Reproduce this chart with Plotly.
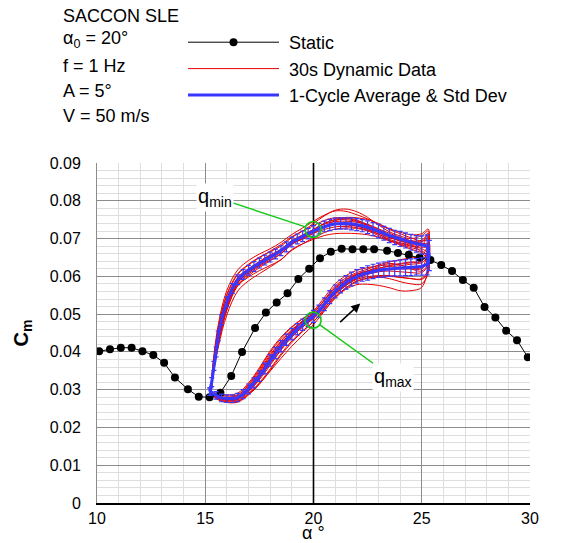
import plotly.graph_objects as go

# ---------------- data ----------------
alpha_static = [10.1, 10.6, 11.1, 11.6, 12.1, 12.6, 13.1, 13.6, 14.2, 14.7,
                15.2, 15.7, 16.2, 16.7, 17.3, 17.8, 18.3, 18.8, 19.3, 19.8,
                20.3, 20.8, 21.3, 21.8, 22.3, 22.8, 23.4, 23.9, 24.4, 24.9,
                25.4, 25.9, 26.4, 26.9, 27.4, 27.9, 28.4, 28.9, 29.4, 29.9]
cm_static = [0.0402, 0.0407, 0.0411, 0.0411, 0.0402, 0.0392, 0.0371, 0.0332, 0.0301, 0.0281,
             0.0280, 0.0292, 0.0336, 0.0400, 0.0463, 0.0504, 0.0531, 0.0555, 0.0593, 0.0620,
             0.0648, 0.0665, 0.0673, 0.0672, 0.0672, 0.0672, 0.0668, 0.0662, 0.0657, 0.0650,
             0.0643, 0.0630, 0.0614, 0.0590, 0.0570, 0.0519, 0.0491, 0.0456, 0.0431, 0.0386]

# 1-cycle average: increasing-alpha branch then decreasing-alpha branch
alpha_avg_up = [15.25, 15.5, 15.75, 16.0, 16.25, 16.5, 16.75, 17.0, 17.25, 17.5,
                17.75, 18.0, 18.25, 18.5, 18.75, 19.0, 19.25, 19.5, 19.75, 20.0,
                20.25, 20.5, 20.75, 21.0, 21.25, 21.5, 21.75, 22.0, 22.25, 22.5,
                22.75, 23.0, 23.25, 23.5, 23.75, 24.0, 24.25, 24.5, 24.75, 25.0,
                25.25, 25.35]
cm_avg_up = [0.0295, 0.0285, 0.0278, 0.0276, 0.0276, 0.0279, 0.0288, 0.0302, 0.0318, 0.0336,
             0.0356, 0.0377, 0.0397, 0.0415, 0.0432, 0.0447, 0.0460, 0.0472, 0.0483, 0.0494,
             0.0508, 0.0526, 0.0545, 0.0560, 0.0573, 0.0584, 0.0593, 0.0600, 0.0605, 0.0609,
             0.0613, 0.0616, 0.0618, 0.0620, 0.0621, 0.0622, 0.0623, 0.0624, 0.0625, 0.0626,
             0.0632, 0.0655]
std_avg_up = [0.0010, 0.0010, 0.0010, 0.0010, 0.0010, 0.0011, 0.0012, 0.0013, 0.0013, 0.0014,
              0.0014, 0.0015, 0.0015, 0.0015, 0.0015, 0.0015, 0.0015, 0.0015, 0.0016, 0.0016,
              0.0016, 0.0017, 0.0017, 0.0017, 0.0017, 0.0018, 0.0018, 0.0018, 0.0018, 0.0019,
              0.0019, 0.0019, 0.0020, 0.0020, 0.0020, 0.0021, 0.0021, 0.0022, 0.0022, 0.0023,
              0.0028, 0.0040]
alpha_avg_down = [25.25, 25.0, 24.75, 24.5, 24.25, 24.0, 23.75, 23.5, 23.25, 23.0,
                  22.75, 22.5, 22.25, 22.0, 21.75, 21.5, 21.25, 21.0, 20.75, 20.5,
                  20.25, 20.0, 19.75, 19.5, 19.25, 19.0, 18.75, 18.5, 18.25, 18.0,
                  17.75, 17.5, 17.25, 17.0, 16.75, 16.5, 16.25, 16.0, 15.75, 15.6,
                  15.5, 15.4, 15.3, 15.2]
cm_avg_down = [0.0680, 0.0683, 0.0686, 0.0690, 0.0695, 0.0699, 0.0703, 0.0708, 0.0714, 0.0720,
               0.0725, 0.0730, 0.0734, 0.0737, 0.0739, 0.0740, 0.0740, 0.0739, 0.0736, 0.0732,
               0.0726, 0.0720, 0.0713, 0.0706, 0.0699, 0.0691, 0.0678, 0.0668, 0.0659, 0.0651,
               0.0643, 0.0635, 0.0626, 0.0616, 0.0605, 0.0591, 0.0568, 0.0533, 0.0485, 0.0442,
               0.0400, 0.0363, 0.0320, 0.0295]
std_avg_down = [0.0030, 0.0024, 0.0022, 0.0021, 0.0020, 0.0020, 0.0019, 0.0019, 0.0018, 0.0018,
                0.0017, 0.0017, 0.0016, 0.0016, 0.0016, 0.0015, 0.0015, 0.0015, 0.0015, 0.0014,
                0.0014, 0.0014, 0.0014, 0.0014, 0.0013, 0.0013, 0.0013, 0.0013, 0.0013, 0.0013,
                0.0013, 0.0013, 0.0013, 0.0013, 0.0013, 0.0013, 0.0013, 0.0013, 0.0013, 0.0013,
                0.0013, 0.0012, 0.0012, 0.0010]

# 30 s of raw dynamic data: individual cycles (alpha path up, then down, closed)
alpha_cycle = [15.3, 15.6, 16.0, 16.5, 17.0, 17.5, 18.0, 18.5, 19.0, 19.5, 20.0,
               20.5, 21.0, 21.5, 22.0, 22.5, 23.0, 23.5, 24.0, 24.5, 25.0, 25.3,
               25.3, 25.0, 24.5, 24.0, 23.5, 23.0, 22.5, 22.0, 21.5, 21.0, 20.5,
               20.0, 19.5, 19.0, 18.5, 18.0, 17.5, 17.0, 16.5, 16.0, 15.6, 15.3, 15.3]
cm_cycle_01 = [295, 287, 283, 287, 314, 354, 399, 435, 465, 488, 509, 544, 580, 602, 616, 623, 628, 630, 632, 636, 640, 670,
               715, 695, 702, 713, 724, 738, 752, 763, 772, 773, 762, 746, 728, 711, 690, 673, 659, 642, 617, 563, 472, 330, 295]
cm_cycle_02 = [289, 275, 268, 270, 290, 318, 355, 395, 429, 456, 480, 510, 542, 568, 586, 595, 600, 600, 597, 594, 594, 620,
               660, 673, 680, 687, 694, 704, 710, 713, 714, 713, 708, 698, 686, 671, 644, 625, 607, 588, 561, 498, 412, 310, 289]
cm_cycle_03 = [292, 279, 272, 275, 296, 326, 365, 405, 439, 466, 488, 516, 546, 566, 578, 579, 576, 570, 562, 562, 571, 630,
               705, 683, 686, 693, 704, 720, 734, 745, 750, 749, 740, 724, 708, 691, 666, 647, 629, 610, 583, 523, 434, 316, 292]
cm_cycle_04 = [294, 284, 280, 285, 312, 350, 393, 429, 459, 482, 504, 538, 574, 596, 610, 619, 630, 638, 644, 649, 654, 690,
               720, 708, 700, 707, 718, 736, 756, 771, 778, 775, 760, 740, 720, 703, 680, 665, 651, 632, 607, 553, 462, 326, 294]
cm_cycle_05 = [293, 283, 278, 282, 308, 346, 389, 427, 457, 480, 502, 536, 570, 592, 606, 615, 622, 626, 628, 632, 636, 655,
               675, 677, 682, 689, 698, 712, 722, 729, 732, 731, 724, 714, 700, 685, 660, 643, 627, 606, 579, 518, 430, 315, 293]
cm_cycle_06 = [290, 277, 271, 273, 294, 330, 375, 419, 455, 482, 500, 526, 554, 576, 596, 613, 626, 634, 630, 620, 614, 635,
               695, 693, 694, 697, 702, 716, 734, 749, 754, 747, 732, 714, 698, 687, 670, 657, 639, 614, 583, 513, 422, 312, 290]
cm_cycle_07 = [296, 289, 286, 291, 318, 358, 403, 439, 467, 488, 506, 536, 568, 590, 606, 613, 618, 620, 620, 620, 620, 645,
               685, 687, 694, 703, 714, 726, 738, 747, 754, 755, 748, 734, 720, 705, 684, 667, 649, 630, 605, 549, 460, 326, 296]
cm_cycle_08 = [288, 273, 266, 267, 286, 314, 351, 391, 425, 454, 480, 514, 550, 576, 594, 605, 612, 614, 612, 610, 610, 630,
               650, 668, 676, 685, 694, 708, 720, 727, 728, 725, 716, 702, 686, 669, 644, 629, 615, 598, 575, 513, 417, 308, 288]
cm_cycle_09 = [294, 282, 276, 279, 304, 340, 383, 421, 453, 478, 498, 530, 564, 588, 604, 613, 618, 620, 620, 620, 624, 670,
               710, 691, 694, 701, 710, 724, 736, 743, 746, 745, 738, 724, 710, 695, 672, 655, 639, 620, 595, 539, 450, 322, 294]
cm_cycle_10 = [291, 279, 274, 276, 298, 330, 369, 407, 441, 466, 490, 522, 556, 578, 592, 599, 602, 602, 598, 594, 592, 610,
               640, 663, 684, 695, 704, 716, 726, 733, 736, 737, 730, 718, 704, 689, 664, 647, 631, 610, 585, 525, 436, 318, 291]
cm_cycle_11 = [292, 281, 277, 281, 306, 342, 385, 423, 451, 472, 490, 520, 554, 580, 598, 609, 620, 628, 634, 638, 640, 680,
               725, 713, 710, 717, 726, 740, 750, 755, 756, 751, 740, 724, 706, 689, 666, 651, 637, 620, 597, 541, 452, 324, 292]
cm_cycle_12 = [290, 276, 268, 269, 288, 316, 349, 383, 415, 444, 472, 508, 544, 570, 588, 595, 598, 594, 586, 580, 580, 610,
               655, 663, 672, 683, 696, 712, 724, 733, 738, 739, 732, 718, 702, 685, 660, 641, 623, 602, 575, 511, 420, 310, 290]
cm_cycles_e4 = [cm_cycle_01, cm_cycle_02, cm_cycle_03, cm_cycle_04, cm_cycle_05, cm_cycle_06,
                cm_cycle_07, cm_cycle_08, cm_cycle_09, cm_cycle_10, cm_cycle_11, cm_cycle_12]  # Cm x 1e4

x_ticks = [10, 15, 20, 25, 30]
y_ticks = [0, 0.01, 0.02, 0.03, 0.04, 0.05, 0.06, 0.07, 0.08, 0.09]
y_tick_text = ["0", "0.01", "0.02", "0.03", "0.04", "0.05", "0.06", "0.07", "0.08", "0.09"]

info_lines = ["SACCON SLE", "α<sub>0</sub> = 20°", "f = 1 Hz", "A = 5°", "V = 50 m/s"]

q_min_point = (19.98, 0.0724)
q_max_point = (19.98, 0.0484)

# ---------------- figure ----------------
FONT = "Liberation Sans, Arial, sans-serif"
RED = "rgb(232,0,0)"
BLUE = "rgb(55,55,255)"
GREEN = "rgb(20,200,20)"
PAD = "\u00a0"

fig = go.Figure()

for i, cyc in enumerate(cm_cycles_e4):
    fig.add_trace(go.Scatter(
        x=alpha_cycle, y=[v / 1e4 for v in cyc], mode="lines",
        line=dict(color=RED, width=1.0, shape="spline", smoothing=1.0),
        name=PAD + "30s Dynamic Data", showlegend=(i == 0), legendrank=2,
        hoverinfo="skip"))

fig.add_trace(go.Scatter(
    x=alpha_static, y=cm_static, mode="lines+markers",
    line=dict(color="black", width=1),
    marker=dict(color="black", size=8),
    name=PAD + "Static", legendrank=1))

fig.add_trace(go.Scatter(
    x=alpha_avg_up + alpha_avg_down, y=cm_avg_up + cm_avg_down,
    mode="lines",
    line=dict(color=BLUE, width=3),
    error_y=dict(type="data", array=std_avg_up + std_avg_down, color=BLUE,
                 thickness=1.2, width=2.5),
    name=PAD + "1-Cycle Average & Std Dev", legendrank=3))

# vertical black line at alpha = 20
fig.add_shape(type="line", x0=20, x1=20, y0=0, y1=0.09, xref="x", yref="y",
              line=dict(color="black", width=1.6), layer="between")

# green circles
for (cx, cy) in (q_min_point, q_max_point):
    fig.add_shape(type="circle", xref="x", yref="y", xsizemode="pixel", ysizemode="pixel",
                  xanchor=cx, yanchor=cy, x0=-8, x1=8, y0=-8, y1=8,
                  line=dict(color=GREEN, width=1.6), layer="above")

# q labels
fig.add_annotation(x=19.62, y=0.0731, ax=15.45, ay=0.0810, axref="x", ayref="y",
                   text="q<sub>min</sub>", showarrow=True, arrowhead=0,
                   arrowcolor=GREEN, arrowwidth=1.4, standoff=0,
                   bgcolor="white", font=dict(family=FONT, size=20, color="black"))
fig.add_annotation(x=20.28, y=0.0472, ax=23.65, ay=0.0333, axref="x", ayref="y",
                   text="q<sub>max</sub>", showarrow=True, arrowhead=0,
                   arrowcolor=GREEN, arrowwidth=1.4, standoff=0,
                   bgcolor="white", font=dict(family=FONT, size=20, color="black"))
# direction arrow
fig.add_annotation(x=22.16, y=0.0528, ax=21.16, ay=0.0475, axref="x", ayref="y",
                   text="", showarrow=True, arrowhead=2, arrowsize=1.2,
                   arrowwidth=1.5, arrowcolor="black")

# info text block (top-left)
info_y_px = [16, 40, 66, 91, 116]
for txt, ypx in zip(info_lines, info_y_px):
    fig.add_annotation(xref="paper", yref="paper",
                       x=(61 - 97) / 433, y=(503 - ypx) / 340,
                       xanchor="left", yanchor="middle", showarrow=False,
                       text=txt, font=dict(family=FONT, size=18, color="black"))

# x-axis title
fig.add_annotation(xref="paper", yref="paper", x=0.5, y=(503 - 533) / 340,
                   xanchor="center", yanchor="middle", showarrow=False,
                   text="α °", font=dict(family=FONT, size=18, color="black"))

fig.update_layout(
    width=569, height=543,
    margin=dict(l=97, r=39, t=163, b=40),
    paper_bgcolor="white", plot_bgcolor="white",
    font=dict(family=FONT, size=16, color="black"),
    legend=dict(x=(183 - 97) / 433, y=(503 - 24) / 340, xanchor="left", yanchor="top",
                font=dict(family=FONT, size=18, color="black"),
                itemwidth=91, bgcolor="rgba(0,0,0,0)", traceorder="normal"),
    xaxis=dict(range=[10, 30], tickvals=x_ticks, ticktext=[str(v) for v in x_ticks],
               automargin=False,
               showgrid=True, gridcolor="rgb(140,140,140)", gridwidth=1,
               minor=dict(dtick=1, showgrid=True, gridcolor="rgb(222,222,222)", gridwidth=1),
               showline=True, linecolor="black", linewidth=2, zeroline=False,
               ticks="", ticklabelstandoff=0,
               tickfont=dict(family=FONT, size=16)),
    yaxis=dict(range=[0, 0.09], tickvals=y_ticks, ticktext=y_tick_text,
               automargin=False,
               showgrid=True, gridcolor="rgb(140,140,140)", gridwidth=1,
               minor=dict(dtick=0.002, showgrid=True, gridcolor="rgb(222,222,222)", gridwidth=1),
               showline=True, linecolor="rgb(140,140,140)", linewidth=1, zeroline=False,
               ticks="", ticklabelstandoff=12,
               title=dict(text="<b>C<sub>m</sub></b>", font=dict(family=FONT, size=20), standoff=15),
               tickfont=dict(family=FONT, size=16)),
)

fig.write_html("out.html")
